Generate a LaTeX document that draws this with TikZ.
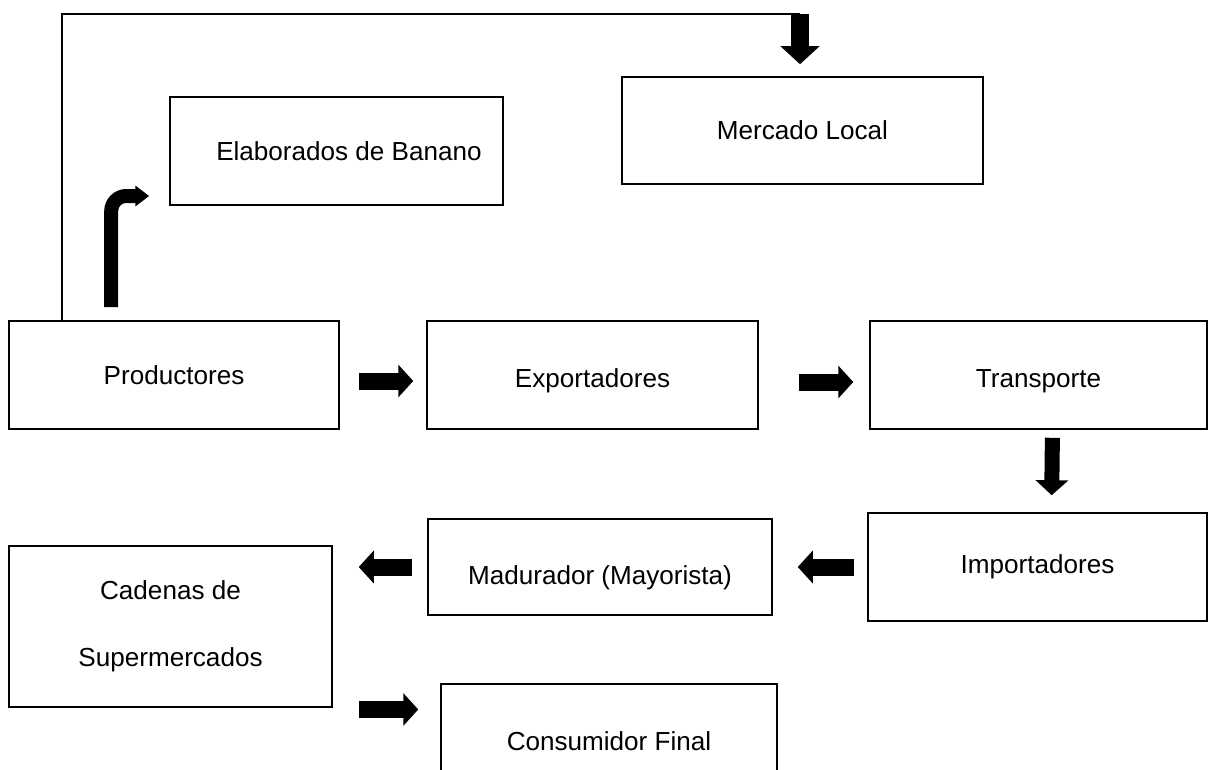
\documentclass[tikz,border=0pt]{standalone}
\usepackage{fontspec}
\setmainfont{Liberation Sans}
\usetikzlibrary{positioning, arrows.meta}

\begin{document}
\begin{tikzpicture}[x=0.02cm, y=-0.02cm,
    block/.style={draw, line width=0.9pt, inner sep=0pt, align=center,
                  font=\fontsize{14.85}{18}\selectfont},
    lowtext/.style={text height=#1, text depth=3.1pt},
    bigarrow/.style={line width=0.34cm, -{Triangle[length=0.3cm, width=0.64cm]}},
    bentarrow/.style={line width=0.28cm, rounded corners=0.3cm,
                  -{Triangle[length=0.28cm, width=0.4cm]}},
    thinline/.style={line width=0.9pt}]
   \useasboundingbox (0,0) rectangle (1224,769);
   \clip (0,0) rectangle (1224,769);

   % fila superior
   \node[block, minimum width=6.66cm, minimum height=2.16cm] (elab) at (336.5,151) {\hspace*{0.5cm}Elaborados de Banano};
   \node[block, minimum width=7.22cm, minimum height=2.14cm] (local) at (802.5,130.5) {Mercado Local};

   % cadena principal
   \node[block, minimum width=6.6cm, minimum height=2.16cm] (prod) at (174,375) {Productores};
   \node[block, lowtext=17.5pt, minimum width=6.62cm, minimum height=2.16cm] (expo) at (592.5,375) {Exportadores};
   \node[block, lowtext=17.5pt, minimum width=6.74cm, minimum height=2.16cm] (trans) at (1038.5,375) {Transporte};
   \node[block, minimum width=6.78cm, minimum height=2.16cm] (imp) at (1037.5,567) {Importadores};
   \node[block, lowtext=23pt, minimum width=6.88cm, minimum height=1.92cm] (madur) at (600,567) {Madurador (Mayorista)};
   \node[block, minimum width=6.46cm, minimum height=3.22cm] (caden) at (170.5,626.5) {Cadenas de\\[20pt]Supermercados};
   \node[block, minimum width=6.72cm, minimum height=2.28cm] (cons) at (609,741) {Consumidor Final};

   \coordinate (turn) at (800,14);
   \coordinate (c1) at ([yshift=-1.66cm]caden.east);
   \coordinate (c2) at ([yshift=-0.12cm]prod.east);
   \coordinate (c3) at ([yshift=-0.14cm]expo.east);

   % hacia el mercado local
   \draw[thinline] ([xshift=1.08cm]prod.north west) |- (turn);
   \draw[bigarrow, line width=0.36cm, -{Triangle[length=0.36cm, width=0.76cm]}, shorten >=0.24cm]
      (turn) -- (turn |- local.north);

   % hacia elaborados
   \draw[bentarrow, shorten <=0.26cm, shorten >=0.4cm]
      ([xshift=2.06cm]prod.north west) |- ([yshift=-0.9cm]elab.west);

   \path[bigarrow]
    (c2) edge[shorten <=0.38cm, shorten >=0.26cm] (c2 -| expo.west)
    (c3) edge[shorten <=0.8cm, shorten >=0.32cm] (c3 -| trans.west)
    ([xshift=0.28cm]trans.south) edge[line width=0.3cm, shorten <=0.16cm, shorten >=0.34cm] ([xshift=0.28cm]imp.north)
    (imp) edge[shorten <=0.26cm, shorten >=0.5cm] (madur)
    (madur.west) edge[shorten <=0.3cm, shorten >=0.52cm] (madur.west -| caden.east)
    (c1) edge[shorten <=0.52cm, shorten >=0.44cm] (c1 -| cons.west)
    ;
\end{tikzpicture}
\end{document}
